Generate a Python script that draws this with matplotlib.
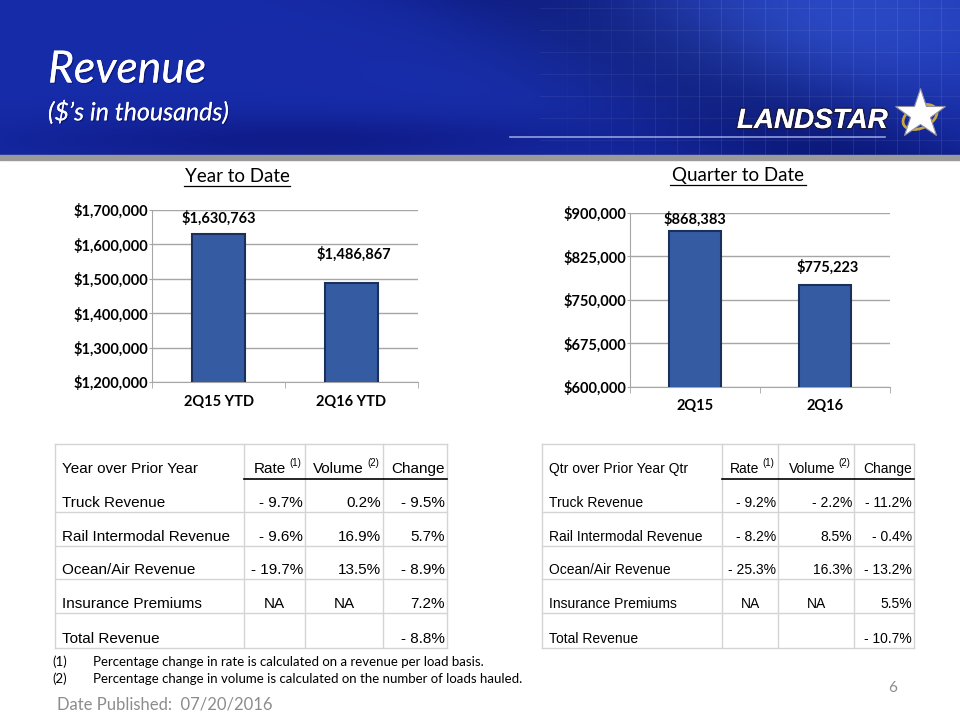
import numpy as np
import matplotlib.pyplot as plt
from matplotlib.patches import Ellipse
import matplotlib.patheffects as pe
from matplotlib.ticker import FuncFormatter, FixedLocator

# chart data ($ in thousands)
ytd_labels = ["2Q15 YTD", "2Q16 YTD"]
ytd_values = [1630763, 1486867]
qtd_labels = ["2Q15", "2Q16"]
qtd_values = [868383, 775223]

# table data (None = blank)
rows = ["Truck Revenue", "Rail Intermodal Revenue", "Ocean/Air Revenue",
        "Insurance Premiums", "Total Revenue"]
ytd_rate = [-9.7, -9.6, -19.7, "NA", None]
ytd_volume = [0.2, 16.9, 13.5, "NA", None]
ytd_change = [-9.5, 5.7, -8.9, 7.2, -8.8]
qtd_rate = [-9.2, -8.2, -25.3, "NA", None]
qtd_volume = [-2.2, 8.5, 16.3, "NA", None]
qtd_change = [-11.2, -0.4, -13.2, 5.5, -10.7]

footnotes = ["Percentage change in rate is calculated on a revenue per load basis.",
             "Percentage change in volume is calculated on the number of loads hauled."]

CAL = ["Lato", "DejaVu Sans"]
ARI = ["Liberation Sans", "DejaVu Sans"]

fig = plt.figure(figsize=(9.6, 7.2), dpi=100)
bg = fig.add_axes([0, 0, 1, 1])
bg.set_xlim(0, 960)
bg.set_ylim(720, 0)
bg.axis("off")

# header background
H, W = 155, 960
yy, xx = np.mgrid[0:H, 0:W]
base = np.array([0.09, 0.17, 0.66])
img = np.ones((H, W, 3)) * base
streak = np.exp(-((xx - 560 - yy * 1.8) / 160.0) ** 2)
img -= streak[..., None] * np.array([0.05, 0.08, 0.18])
glow = np.exp(-((xx - 820) / 260.0) ** 2 - ((yy - 20) / 90.0) ** 2)
img += glow[..., None] * np.array([0.08, 0.12, 0.12])
low = np.exp(-((yy - 140) / 25.0) ** 2) * np.exp(-((xx - 300) / 300.0) ** 2)
img -= low[..., None] * np.array([0.03, 0.06, 0.12])
bg.imshow(np.clip(img, 0, 1), extent=(0, 960, H, 0), aspect="auto", zorder=0)
for gx in range(545, 960, 22):
    a = 0.10 * min(1, (gx - 540) / 150)
    bg.plot([gx, gx], [0, H], color="white", lw=0.6, alpha=a, zorder=1)
for gy in range(8, H, 22):
    bg.plot([540, 960], [gy, gy], color="white", lw=0.6, alpha=0.07, zorder=1)
bg.fill_between([0, 960], 155, 160, color="#9a9a9a", zorder=1)
bg.plot([510, 885], [137, 137], color="#c8d2ff", lw=1.2, alpha=0.7, zorder=2)

shadow = [pe.withSimplePatchShadow(offset=(1, -1), shadow_rgbFace="#000033", alpha=0.35), pe.Normal()]
bg.text(48, 70, "Revenue", color="white", fontsize=32, style="italic", weight="normal",
        family=CAL, va="center", ha="left", path_effects=shadow, zorder=3)
bg.text(48, 112, "($\u2019s in thousands)", color="white", fontsize=18, style="italic",
        weight="normal", family=CAL, va="center", ha="left", path_effects=shadow, zorder=3)

# logo
bg.text(737, 121, "LANDSTAR", color="white", fontsize=20, weight="bold", style="italic",
        family=["Liberation Sans Narrow", "Liberation Sans", "DejaVu Sans"], va="center", ha="left",
        path_effects=[pe.withStroke(linewidth=2, foreground="#1a1a40"), pe.Normal()], zorder=3)
bg.add_patch(Ellipse((920, 117), 36, 22, angle=-25, fill=False, ec="#c9a646", lw=2, zorder=3))
bg.plot(920, 114, marker="*", ms=38, color="white", mec="#9090a0", mew=0.8, zorder=4)


def bar_chart(rect, labels, values, lo, hi, step, offsets):
    ax = fig.add_axes(rect)
    x = np.arange(len(values))
    ax.bar(x, values, width=0.4, color="#355ca3", edgecolor="#1b2f5c", linewidth=1.5, zorder=3)
    ax.set_xlim(-0.5, len(values) - 0.5)
    ax.set_ylim(lo, hi)
    ax.yaxis.set_major_locator(FixedLocator(np.arange(lo, hi + 1, step)))
    ax.yaxis.set_major_formatter(FuncFormatter(lambda v, p: f"${v:,.0f}"))
    ax.grid(axis="y", color="#a6a6a6", lw=1, zorder=0)
    for s in ["top", "right"]:
        ax.spines[s].set_visible(False)
    for s in ["left", "bottom"]:
        ax.spines[s].set_color("#a6a6a6")
    ax.set_xticks(x)
    ax.set_xticklabels(labels)
    ax.set_xticks(np.arange(-0.5, len(values)), minor=True)
    ax.tick_params(axis="x", which="major", length=0, pad=9)
    ax.tick_params(axis="x", which="minor", length=4, color="#a6a6a6")
    ax.tick_params(axis="y", length=2, color="#a6a6a6", pad=0.5)
    for t in ax.get_xticklabels() + ax.get_yticklabels():
        t.set_family(CAL)
        t.set_weight("bold")
        t.set_fontsize(10.5)
    for xi, v, off in zip(x, values, offsets):
        ax.annotate(f"${v:,.0f}", (xi, v), xytext=(2 * xi, off), textcoords="offset points",
                    ha="center", va="center", family=CAL, weight="bold", fontsize=10.5)
    ax.set_facecolor("none")
    return ax


bar_chart([152 / 960, 1 - 382 / 720, 266 / 960, 172 / 720], ytd_labels, ytd_values,
          1200000, 1700000, 100000, [11, 21])
bar_chart([630 / 960, 1 - 387 / 720, 260 / 960, 174 / 720], qtd_labels, qtd_values,
          600000, 900000, 75000, [9, 13])

bg.text(237, 176, "Year to Date", family=CAL, fontsize=13.5, ha="center", va="center")
bg.plot([184, 290], [186, 186], color="black", lw=0.9)
bg.text(738, 175, "Quarter to Date", family=CAL, fontsize=13.5, ha="center", va="center")
bg.plot([670, 806], [185, 185], color="black", lw=0.9)


def fmt(v):
    if v is None:
        return ""
    if isinstance(v, str):
        return v
    return f"- {abs(v):.1f}%" if v < 0 else f"{v:.1f}%"


def table(x0, xs, x1, heading, rate, vol, chg, fs):
    top, hdr = 444, 479
    edges = [hdr, 512, 546, 579, 613, 648]
    gc = "#d4d4d4"
    for xv in [x0] + xs + [x1]:
        bg.plot([xv, xv], [top, 648], color=gc, lw=1)
    bg.plot([x0, x1], [top, top], color=gc, lw=1)
    bg.plot([xs[0], x1], [hdr, hdr], color="black", lw=1.2)
    for e in edges[1:]:
        bg.plot([x0, x1], [e, e], color=gc, lw=1)
    bg.text(x0 + 7, 473, heading, family=ARI, fontsize=fs, ha="left", va="baseline")
    bg.text(xs[1] - 19, 473, "Rate", family=ARI, fontsize=fs, ha="right", va="baseline")
    bg.text(xs[1] - 4, 466, "(1)", family=ARI, fontsize=7, ha="right", va="baseline")
    bg.text(xs[2] - 19, 473, "Volume", family=ARI, fontsize=fs, ha="right", va="baseline")
    bg.text(xs[2] - 4, 466, "(2)", family=ARI, fontsize=7, ha="right", va="baseline")
    bg.text(x1 - 2, 473, "Change", family=ARI, fontsize=fs, ha="right", va="baseline")
    cols = [(xs[0], xs[1], rate), (xs[1], xs[2], vol), (xs[2], x1, chg)]
    for i, name in enumerate(rows):
        yb = edges[i + 1] - 5
        bg.text(x0 + 7, yb, name, family=ARI, fontsize=fs, ha="left", va="baseline")
        for cl, cr, vals in cols:
            v = vals[i]
            if isinstance(v, str):
                bg.text((cl + cr) / 2, yb, v, family=ARI, fontsize=fs, ha="center", va="baseline")
            else:
                bg.text(cr - 2, yb, fmt(v), family=ARI, fontsize=fs, ha="right", va="baseline")


table(55, [244, 305, 383], 447, "Year over Prior Year", ytd_rate, ytd_volume, ytd_change, 11)
table(542, [722, 778, 854], 914, "Qtr over Prior Year Qtr", qtd_rate, qtd_volume, qtd_change, 10)

# footnotes
for i, note in enumerate(footnotes):
    y = 662 + i * 17
    bg.text(52, y, f"({i + 1})", family=CAL, fontsize=9.5, ha="left", va="center")
    bg.text(93, y, note, family=CAL, fontsize=9.5, ha="left", va="center")
bg.text(57, 705, "Date Published:  07/20/2016", family=CAL, fontsize=12, color="#8c8c8c",
        ha="left", va="center")
bg.text(893, 688, "6", family=CAL, fontsize=11, color="#8c8c8c", ha="center", va="center")

fig.savefig("out.png", dpi=100)
